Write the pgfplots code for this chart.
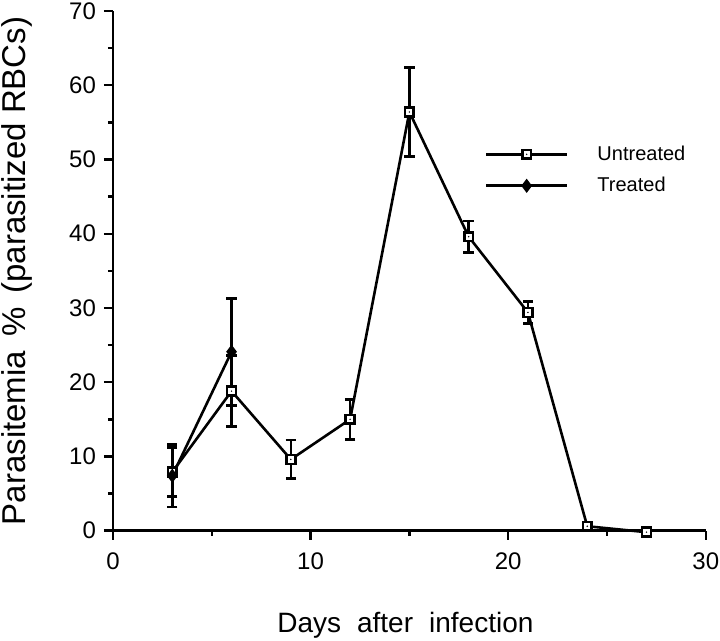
\documentclass[border=0pt]{standalone}
\usepackage{pgfplots}
\pgfplotsset{compat=1.18}
\usepackage{fontspec}
\setmainfont{Liberation Sans}
\pgfdeclareplotmark{sqdot}{%
  \pgfscope
  \pgfpathrectangle{\pgfpoint{-\pgfplotmarksize}{-\pgfplotmarksize}}{\pgfpoint{2\pgfplotmarksize}{2\pgfplotmarksize}}%
  \pgfsetfillcolor{white}%
  \pgfusepathqfillstroke
  \pgfpathcircle{\pgfpointorigin}{0.4pt}%
  \pgfsetfillcolor{black}%
  \pgfusepathqfill
  \endpgfscope
}
\begin{document}
\begin{tikzpicture}
\useasboundingbox (-56.5pt,-55.15pt) rectangle (303.5pt,265.35pt);
\begin{axis}[
  at={(0pt,0pt)}, anchor=south west,
  scale only axis,
  width=296.4pt, height=259.85pt,
  xmin=0, xmax=30, ymin=0, ymax=70,
  axis x line*=bottom, axis y line*=left,
  axis line style={-, line width=1.3pt, black},
  xtick={0,10,20,30}, minor xtick={5,15,25},
  ytick={0,10,...,70}, minor ytick={5,15,...,65},
  tick align=outside,
  major tick length=4.5pt, minor tick length=2.5pt,
  tick style={line width=1.2pt, black},
  /pgf/number format/assume math mode=true,
  ticklabel style={font=\fontsize{12}{14}\selectfont},
  xticklabel style={yshift=-3pt},
  yticklabel style={xshift=-0.5pt},
  xlabel={Days\hspace{8pt}after\hspace{8pt}infection},
  ylabel={Parasitemia\hspace{7pt}\%\hspace{7pt}(parasitized RBCs)},
  xlabel style={at={(axis description cs:0.5,0)}, anchor=base, yshift=-51pt, xshift=-2pt, font=\fontsize{14}{16}\selectfont},
  ylabel style={at={(axis description cs:-0.162,0.5)}, anchor=center, font=\fontsize{16.5}{19}\selectfont},
  clip=false,
  legend style={at={(axis cs:18.8,52.2)}, anchor=north west, draw=none, fill=none, inner sep=0pt, row sep=5pt,
    column sep=13.5pt, nodes={inner sep=1pt}, font=\fontsize{10}{12}\selectfont},
  legend cell align=left,
  legend image code/.code={%
    \draw[mark repeat=2, mark phase=2, #1] plot coordinates {(0pt,0pt) (20.25pt,0pt) (40.5pt,0pt)};},
]
\addplot[black, line width=1.3pt, mark=sqdot, mark size=2.2pt,
  mark options={line width=1.3pt, solid},
  error bars/.cd, y dir=both, y explicit,
  error bar style={line width=1.3pt},
  error mark options={rotate=90, mark size=2.6pt, line width=1.3pt}]
  table[x=x, y=y, y error=e] {
x y e
3 7.9 3.3
6 18.8 4.8
9 9.6 2.6
12 15.0 2.7
15 56.4 6.0
18 39.6 2.1
21 29.4 1.5
24 0.6 0
27 -0.2 0
};
\addlegendentry{Untreated}
\addplot[black, line width=1.3pt, mark=diamond*, mark size=2.9pt,
  mark options={fill=black, line width=0.8pt, solid},
  error bars/.cd, y dir=both, y explicit,
  error bar style={line width=1.3pt},
  error mark options={rotate=90, mark size=2.6pt, line width=1.3pt}]
  table[x=x, y=y, y error=e] {
x y e
3 7.4 4.2
6 24.1 7.2
};
\addlegendentry{Treated}
\end{axis}
\end{tikzpicture}
\end{document}
